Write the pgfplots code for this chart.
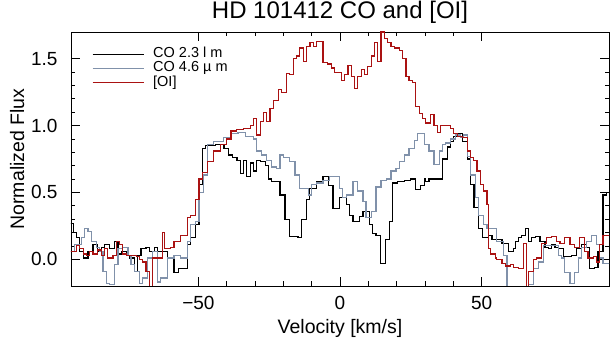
\documentclass[border=0pt]{standalone}
\usepackage{pgfplots}
\pgfplotsset{compat=1.18}
\usepackage{pgfplotstable}
\usepackage{fontspec}
\setmainfont{Liberation Sans}
\definecolor{coblue}{RGB}{128,145,170}
\definecolor{oired}{RGB}{170,18,18}

\pgfplotstableread{
v val
-97 0.27
-94.2 0.20
-93.1 0.16
-91.9 0.06
-90.7 0.01
-89.0 0.06
-87.2 0.11
-85.5 0.06
-84.3 0.09
-83.1 0.11
-81.4 0.08
-79.6 0.13
-78.4 0.04
-77.3 0.06
-75.5 0.03
-74.4 0.01
-72.6 -0.09
-71.4 0.03
-70.3 0.08
-68.5 0.09
-67.3 0.06
-65.6 0.09
-64.5 0.06
-61.0 0.01
-58.6 -0.10
-56.9 -0.07
-53.9 0.11
-52.8 0.16
-51.0 0.26
-49.8 0.56
-48.7 0.83
-47.5 0.85
-44.0 0.86
-41.0 0.83
-39.5 0.78
-38.1 0.76
-36.4 0.74
-35.2 0.64
-34.1 0.74
-33.0 0.62
-31.7 0.72
-30.5 0.66
-29.4 0.74
-28.2 0.73
-26.4 0.70
-25.3 0.60
-24.1 0.58
-21.2 0.48
-19.4 0.30
-17.7 0.17
-14.8 0.16
-13.6 0.30
-11.8 0.45
-10.7 0.53
-8.3 0.58
-6.0 0.62
-4.2 0.55
-2.5 0.38
-0.1 0.46
2.2 0.41
3.4 0.33
4.6 0.28
6.9 0.32
8.1 0.36
10.4 0.26
11.6 0.19
12.7 0.18
14.3 -0.03
16.0 0.15
17.4 0.28
18.6 0.57
20.3 0.58
22.7 0.59
25.0 0.60
26.8 0.52
28.5 0.55
29.7 0.60
30.3 0.58
31.4 0.60
36.1 0.75
37.9 0.84
39.1 0.88
40.2 0.92
41.4 0.94
43.2 0.88
44.9 0.75
46.1 0.56
47.3 0.39
49.0 0.23
50.2 0.16
52.5 0.18
53.7 0.15
57.2 0.12
59.5 0.06
61.3 0.08
61.9 0.13
63.0 0.16
64.2 0.18
65.4 0.23
66.5 0.13
67.7 0.16
68.9 0.17
70.6 0.13
72.4 0.09
73.6 0.08
74.7 0.11
75.9 0.09
77.1 0.08
78.8 0.02
81.8 0.03
83.5 0.08
85.3 0.11
87.0 0.09
88.2 -0.07
90.0 -0.06
91.1 0.06
92.9 0.48
94.0 0.50
96 0.50
}\cotwo

\pgfplotstableread{
v val
-97 0.06
-93.7 0.11
-91.3 0.16
-90.2 0.23
-89.0 0.21
-87.8 0.13
-86.1 0.09
-84.9 0.06
-83.7 -0.09
-82.5 -0.18
-81.4 -0.19
-79.6 -0.04
-78.4 0.08
-76.7 0.09
-74.9 0.03
-73.8 -0.04
-72.6 -0.09
-70.8 -0.18
-69.7 -0.14
-67.9 0.01
-66.2 0.06
-64.5 -0.17
-63.3 -0.14
-61.0 0.01
-58.6 0.03
-56.3 0.01
-53.9 0.13
-52.8 0.26
-51.0 0.28
-49.8 0.50
-48.1 0.63
-46.9 0.86
-44.6 0.88
-41.1 0.91
-38.5 0.94
-36.0 0.95
-33.5 0.92
-30.5 0.90
-29.4 0.81
-27.6 0.78
-25.9 0.74
-24.1 0.69
-22.4 0.68
-21.2 0.78
-20.0 0.76
-17.7 0.73
-15.9 0.63
-14.2 0.53
-11.2 0.48
-10.1 0.56
-8.3 0.57
-6.0 0.59
-3.6 0.62
-0.1 0.53
1.0 0.46
2.2 0.48
4.6 0.58
6.3 0.51
8.1 0.43
9.2 0.31
11.0 0.36
12.7 0.54
14.5 0.59
16.3 0.60
18.0 0.66
19.8 0.68
21.0 0.73
22.7 0.78
24.4 0.83
26.2 0.89
27.4 0.94
29.8 0.86
31.4 0.81
33.2 0.71
35.0 0.81
36.1 0.86
37.3 0.87
39.1 0.90
40.8 0.93
42.6 0.91
43.7 0.93
44.9 0.77
46.1 0.63
47.8 0.46
49.0 0.33
50.8 0.26
51.9 0.23
55.4 0.13
57.8 0.03
59.0 -0.25
66.5 -0.19
68.3 -0.07
70.1 -0.02
71.8 0.10
77.1 0.03
78.2 0.01
79.4 -0.10
81.2 -0.18
82.9 -0.10
84.1 0.01
85.3 0.09
87.0 0.13
88.8 0.18
90.5 0.11
91.7 0.01
92.9 -0.03
96 -0.03
}\cofour

\pgfplotstableread{
v val
-97 0.06
-93.1 0.10
-91.9 0.08
-90.7 0.04
-89.6 0.03
-88.4 0.06
-87.2 0.04
-85.5 0.07
-84.3 0.03
-83.1 0.08
-82.0 0.01
-80.2 0.03
-79.0 0.13
-77.9 0.11
-76.7 0.04
-75.5 0.03
-72.0 0.02
-70.8 0.0
-69.7 -0.02
-68.5 -0.09
-67.3 -0.25
-66.2 0.01
-64.5 0.01
-62.7 0.20
-62.1 0.08
-59.8 0.09
-58.6 0.13
-56.3 0.18
-53.9 0.31
-52.8 0.33
-51.0 0.45
-49.8 0.60
-48.7 0.65
-46.9 0.73
-44.6 0.81
-42.2 0.86
-40.0 0.90
-38.5 0.96
-36.5 0.97
-34.0 0.98
-31.7 1.00
-30.5 1.05
-29.4 0.93
-28.2 1.03
-27.0 1.10
-25.9 1.03
-24.7 1.13
-23.5 1.19
-21.8 1.27
-20.6 1.25
-18.8 1.39
-17.7 1.38
-16.5 1.50
-15.3 1.52
-14.2 1.58
-13.0 1.48
-11.8 1.59
-10.6 1.62
-9.5 1.59
-8.3 1.63
-6.0 1.47
-4.5 1.46
-3.0 1.43
-1.9 1.40
0.5 1.34
1.6 1.38
2.8 1.45
4.0 1.37
5.1 1.28
6.3 1.37
7.5 1.42
8.6 1.38
9.8 1.44
11.0 1.52
12.2 1.62
13.3 1.48
14.5 1.70
15.7 1.65
16.8 1.62
18.0 1.59
19.2 1.58
20.9 1.56
22.1 1.50
23.3 1.37
24.4 1.34
25.6 1.32
26.8 1.14
28.0 1.09
29.1 1.05
30.3 1.02
32.0 1.08
33.2 1.00
34.4 0.95
35.5 1.00
39.1 0.98
40.2 0.94
41.4 0.92
43.2 0.91
44.9 0.81
46.1 0.76
47.2 0.74
48.4 0.66
49.6 0.56
50.8 0.51
51.9 0.41
52.5 0.08
53.1 0.04
54.8 0.01
55.4 0.0
57.2 -0.03
58.4 -0.05
60.1 -0.04
61.3 -0.06
63.0 -0.07
64.8 0.12
65.9 -0.25
66.5 -0.09
68.3 0.0
69.5 0.01
71.2 0.12
73.0 0.16
74.7 0.17
76.5 0.13
77.7 0.12
79.4 0.16
81.2 0.11
82.9 0.09
84.7 0.16
86.4 0.06
87.6 0.01
89.4 0.02
90.5 -0.02
91.7 0.11
92.9 0.18
96 0.18
}\oi

\begin{document}
\begin{tikzpicture}
\begin{axis}[
  scale only axis, width=538pt, height=254pt,
  xmin=-95, xmax=95, ymin=-0.2, ymax=1.7,
  xtick={-50,0,50}, xticklabels={−50,0,50},
  minor x tick num=4,
  ytick={0,0.5,1,1.5}, yticklabels={0.0,0.5,1.0,1.5},
  minor y tick num=4,
  tick align=inside, major tick length=9pt, minor tick length=4.5pt,
  tick style={black, line width=0.7pt},
  axis line style={line width=0.9pt},
  ticklabel style={font=\fontsize{19}{22}\selectfont},
  xticklabel style={yshift=-7pt},
  yticklabel style={xshift=-10pt},
  xlabel={Velocity [km/s]}, ylabel={Normalized Flux},
  label style={font=\fontsize{19.5}{22}\selectfont},
  xlabel style={at={(axis description cs:0.5,-0.169)}, anchor=center},
  ylabel style={at={(axis description cs:-0.1,0.5)}, anchor=center},
  title={HD 101412 CO and [OI]},
  title style={font=\fontsize{24}{28}\selectfont, at={(axis description cs:0.5,1.031)}, anchor=base},
  legend cell align=left,
  legend style={draw=none, fill=none, at={(0.039,0.94)}, anchor=north west,
    inner sep=0pt, outer sep=0pt, row sep=0pt,
    font=\fontsize{14.5}{14.5}\selectfont,
    nodes={inner sep=0pt, text height=10.5pt, text depth=3.7pt},
    /tikz/every odd column/.append style={column sep=9pt}},
  legend image code/.code={\draw[#1] (0pt,0pt) -- (51pt,0pt);},
  every axis plot/.append style={line width=1.2pt, const plot},
]
\addplot[black] table[x=v, y=val] {\cotwo};
\addlegendentry{CO 2.3 l m}
\addplot[coblue] table[x=v, y=val] {\cofour};
\addlegendentry{CO 4.6 µ m}
\addplot[oired] table[x=v, y=val] {\oi};
\addlegendentry{[OI]}
\end{axis}
\pgfresetboundingbox
\path[use as bounding box] (current axis.south west) ++(-71pt,-56pt) rectangle ++(610pt,342pt);
\end{tikzpicture}
\end{document}
